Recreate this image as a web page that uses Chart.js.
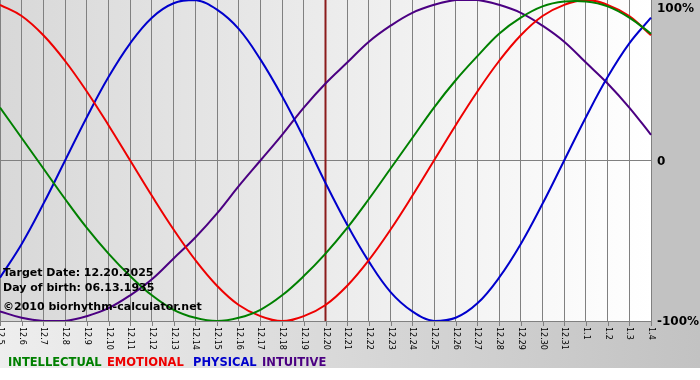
<!DOCTYPE html>
<html>
<head>
<meta charset="utf-8">
<script src="https://cdn.jsdelivr.net/npm/chart.js@4"></script>
<style>
html,body{margin:0;padding:0;background:#fff;}
#wrap{width:700px;height:380px;}
</style>
</head>
<body>
<div id="wrap"><canvas id="c" width="700" height="380"></canvas></div>
<script>
const dayLabels = ['12.5','12.6','12.7','12.8','12.9','12.10','12.11','12.12','12.13','12.14','12.15','12.16','12.17','12.18','12.19','12.20','12.21','12.22','12.23','12.24','12.25','12.26','12.27','12.28','12.29','12.30','12.31','1.1','1.2','1.3','1.4'];
const intellectual = [0.33,0.14,-0.05,-0.24,-0.42,-0.58,-0.72,-0.84,-0.93,-0.98,-1.0,-0.98,-0.93,-0.84,-0.72,-0.58,-0.42,-0.24,-0.05,0.14,0.33,0.50,0.65,0.79,0.89,0.96,0.99,0.99,0.96,0.89,0.79];
const emotional = [0.97,0.90,0.78,0.62,0.43,0.22,0,-0.22,-0.43,-0.62,-0.78,-0.90,-0.97,-1.0,-0.97,-0.90,-0.78,-0.62,-0.43,-0.22,0,0.22,0.43,0.62,0.78,0.90,0.97,1.0,0.97,0.90,0.78];
const physical = [-0.73,-0.52,-0.27,0,0.27,0.52,0.73,0.89,0.98,1.0,0.94,0.82,0.63,0.40,0.14,-0.14,-0.40,-0.63,-0.82,-0.94,-1.0,-0.98,-0.89,-0.73,-0.52,-0.27,0,0.27,0.52,0.73,0.89];
const intuitive = [-0.94,-0.98,-1.0,-1.0,-0.97,-0.92,-0.84,-0.74,-0.61,-0.48,-0.33,-0.16,0,0.16,0.33,0.48,0.61,0.74,0.84,0.92,0.97,1.0,1.0,0.97,0.92,0.84,0.74,0.61,0.48,0.33,0.16];
const seriesNames = ['INTELLECTUAL','EMOTIONAL','PHYSICAL','INTUITIVE'];
const seriesColors = ['#008000','#ee0000','#0000cc','#4b0082'];
const yTickValues = [1, 0, -1];
const yTickLabels = ['100%', '0', '-100%'];
const targetLabel = '12.20';
const infoLines = ['Target Date: 12.20.2025', 'Day of birth: 06.13.1935', '©2010 biorhythm-calculator.net'];

const FONT = '"DejaVu Sans", Verdana, sans-serif';

const decor = {
  id: 'decor',
  beforeDraw(chart) {
    const ctx = chart.ctx, a = chart.chartArea;
    ctx.save();
    ctx.fillStyle = '#ffffff';
    ctx.fillRect(0, 0, chart.width, chart.height);
    const bandBottom = 368;
    let g = ctx.createLinearGradient(0, 0, chart.width, 0);
    g.addColorStop(0, '#eeeeee');
    g.addColorStop(1, '#c2c2c2');
    ctx.fillStyle = g;
    ctx.fillRect(0, a.bottom, chart.width, bandBottom - a.bottom);
    ctx.fillStyle = '#c2c2c2';
    ctx.fillRect(a.right, 0, chart.width - a.right, a.bottom);
    g = ctx.createLinearGradient(a.left, 0, a.right, 0);
    g.addColorStop(0, '#d8d8d8');
    g.addColorStop(1, '#ffffff');
    ctx.fillStyle = g;
    ctx.fillRect(a.left, a.top, a.right - a.left, a.bottom - a.top);
    ctx.restore();
  },
  beforeDatasetsDraw(chart) {
    const ctx = chart.ctx, a = chart.chartArea, xs = chart.scales.x;
    const x = xs.getPixelForValue(dayLabels.indexOf(targetLabel));
    ctx.save();
    ctx.strokeStyle = '#8b1c1c';
    ctx.lineWidth = 2;
    ctx.beginPath();
    ctx.moveTo(x, a.top);
    ctx.lineTo(x, a.bottom);
    ctx.stroke();
    ctx.restore();
  },
  afterDraw(chart) {
    const ctx = chart.ctx, a = chart.chartArea, xs = chart.scales.x, ys = chart.scales.y;
    ctx.save();
    ctx.strokeStyle = '#808080';
    ctx.lineWidth = 1;
    ctx.fillStyle = '#000';
    ctx.font = '8px ' + FONT;
    ctx.textAlign = 'left';
    ctx.textBaseline = 'middle';
    dayLabels.forEach((lab, i) => {
      const x = Math.round(xs.getPixelForValue(i)) + 0.5;
      ctx.beginPath();
      ctx.moveTo(x, a.bottom);
      ctx.lineTo(x, a.bottom + 5);
      ctx.stroke();
      ctx.save();
      ctx.translate(x, a.bottom + 6);
      ctx.rotate(Math.PI / 2);
      ctx.fillText(lab, 0, 0);
      ctx.restore();
    });
    ctx.font = 'bold 12px ' + FONT;
    ctx.fillStyle = '#000';
    ctx.textAlign = 'left';
    yTickValues.forEach((v, i) => {
      let y = ys.getPixelForValue(v);
      if (v === 1) y = 8;
      ctx.textBaseline = 'middle';
      ctx.fillText(yTickLabels[i], a.right + 6, y + 1);
    });
    ctx.font = 'bold 11px ' + FONT;
    ctx.textBaseline = 'alphabetic';
    const infoY = [276, 291, 310];
    infoLines.forEach((t, i) => ctx.fillText(t, 3, infoY[i]));
    ctx.font = 'bold 11.5px ' + FONT;
    const legendX = [8, 107, 193, 262];
    seriesNames.forEach((n, i) => {
      ctx.fillStyle = seriesColors[i];
      ctx.fillText(n, legendX[i], 366);
    });
    ctx.restore();
  }
};

const seriesData = [intellectual, emotional, physical, intuitive];

new Chart(document.getElementById('c'), {
  type: 'line',
  data: {
    labels: dayLabels,
    datasets: seriesNames.map((n, i) => ({
      label: n,
      data: seriesData[i],
      borderColor: seriesColors[i],
      backgroundColor: seriesColors[i],
      borderWidth: 2,
      pointRadius: 0,
      tension: 0.4,
      fill: false
    }))
  },
  options: {
    responsive: false,
    animation: false,
    devicePixelRatio: 1,
    layout: { padding: 0 },
    plugins: { legend: { display: false }, tooltip: { enabled: false }, title: { display: false } },
    scales: {
      x: {
        type: 'category',
        offset: false,
        grid: { color: '#808080', lineWidth: 1, drawTicks: false },
        border: { display: true, color: '#808080' },
        ticks: { display: false, autoSkip: false },
        afterFit(s) { s.height = 59; }
      },
      y: {
        position: 'right',
        min: -1, max: 1,
        grid: { color: c => (c.tick && c.tick.value === 0) ? '#808080' : 'rgba(0,0,0,0)', drawTicks: false },
        border: { display: false },
        ticks: { display: false, stepSize: 1 },
        afterFit(s) { s.width = 49; }
      }
    }
  },
  plugins: [decor]
});
</script>
</body>
</html>
